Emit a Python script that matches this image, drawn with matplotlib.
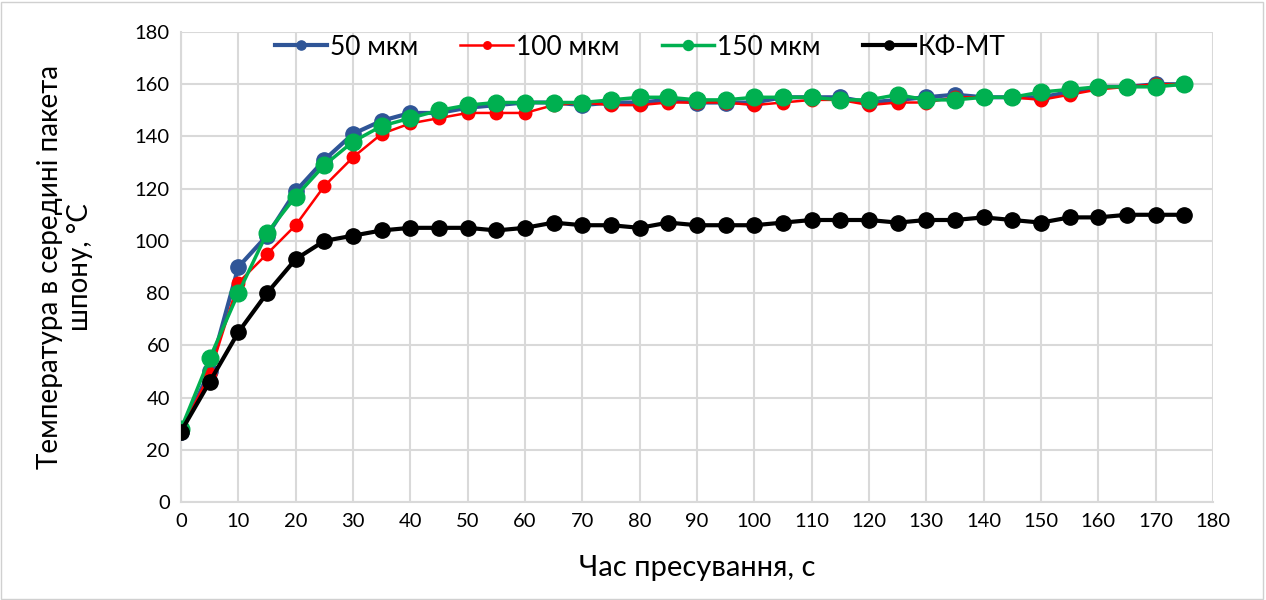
import matplotlib.pyplot as plt
import matplotlib

matplotlib.rc('font', family=['Lato', 'DejaVu Sans'])

time_s = [0, 5, 10, 15, 20, 25, 30, 35, 40, 45, 50, 55, 60, 65, 70, 75, 80, 85,
          90, 95, 100, 105, 110, 115, 120, 125, 130, 135, 140, 145, 150, 155, 160, 165, 170, 175]

t_50 = [27, 50, 90, 102, 119, 131, 141, 146, 149, 149, 151, 152, 153, 153, 152, 153, 153, 154,
        153, 153, 153, 155, 155, 155, 153, 154, 155, 156, 155, 155, 155, 157, 159, 159, 160, 160]
t_100 = [27, 49, 84, 95, 106, 121, 132, 141, 145, 147, 149, 149, 149, 152, 153, 152, 152, 153,
         153, 153, 152, 153, 154, 154, 152, 153, 153, 155, 155, 155, 154, 156, 158, 159, 160, 160]
t_150 = [28, 55, 80, 103, 117, 129, 138, 144, 147, 150, 152, 153, 153, 153, 153, 154, 155, 155,
         154, 154, 155, 155, 155, 154, 154, 156, 154, 154, 155, 155, 157, 158, 159, 159, 159, 160]
t_kf = [27, 46, 65, 80, 93, 100, 102, 104, 105, 105, 105, 104, 105, 107, 106, 106, 105, 107,
        106, 106, 106, 107, 108, 108, 108, 107, 108, 108, 109, 108, 107, 109, 109, 110, 110, 110]

labels = ['50 мкм', '100 мкм', '150 мкм', 'КФ-МТ']

fig = plt.figure(figsize=(12.66, 6.0), dpi=100)
ax = fig.add_axes([181 / 1266, 98 / 600, 1032 / 1266, 470 / 600])

ax.plot(time_s, t_50, '-o', color='#2f5597', lw=3, ms=11, label=labels[0], zorder=3)
ax.plot(time_s, t_100, '-o', color='#ff0000', lw=1.8, ms=9, label=labels[1], zorder=4)
ax.plot(time_s, t_150, '-o', color='#00b050', lw=2.5, ms=12, label=labels[2], zorder=5)
ax.plot(time_s, t_kf, '-o', color='#000000', lw=3, ms=11, label=labels[3], zorder=6)

ax.set_xlim(0, 180)
ax.set_ylim(0, 180)
ax.set_xticks(range(0, 181, 10))
ax.set_yticks(range(0, 181, 20))
ax.grid(True, color='#d9d9d9', lw=1.5)
ax.set_axisbelow(True)
for s in ['top', 'right']:
    ax.spines[s].set_visible(False)
for s in ['left', 'bottom']:
    ax.spines[s].set_color('#d9d9d9')
    ax.spines[s].set_linewidth(1.5)
ax.tick_params(length=0, labelsize=14.5, pad=8, colors='#000000')

ax.set_xlabel('Час пресування, с', fontsize=21, labelpad=18)
ax.set_ylabel('Температура в середині пакета\nшпону, °С', fontsize=20, labelpad=30)

ax.legend(loc='center', bbox_to_anchor=(0.445, 0.968), ncol=4, frameon=False,
          fontsize=19, handlelength=2.0, columnspacing=1.6, handletextpad=0.1,
          markerscale=0.6)

fig.patches.append(plt.Rectangle((0.001, 0.002), 0.997, 0.995, transform=fig.transFigure,
                                 fill=False, edgecolor='#d0d0d0', lw=1))

plt.savefig('out.png')
